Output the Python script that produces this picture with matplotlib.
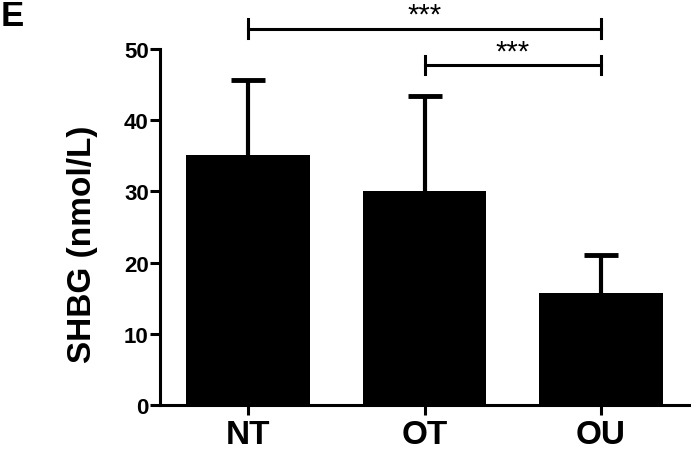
import matplotlib.pyplot as plt

groups = ['NT', 'OT', 'OU']
means = [35.1, 30.1, 15.7]
sd = [10.6, 13.3, 5.4]
# significance brackets: (from group, to group, height, label)
brackets = [(0, 2, 52.9, '***'), (1, 2, 47.8, '***')]

plt.rcParams['font.family'] = ['Liberation Sans', 'DejaVu Sans']

fig = plt.figure(figsize=(6.91, 4.52), dpi=100)
ax = fig.add_axes([0.2315, 0.1018, 0.7685, 0.7872])

x = list(range(len(groups)))
# error bars sit behind the bars, so only the upper half shows
ax.errorbar(x, means, yerr=sd, fmt='none', ecolor='black', elinewidth=3,
            capsize=12, capthick=3.5, zorder=1)
ax.bar(x, means, width=0.7, color='black', zorder=2)

ax.set_xlim(-0.5, 2.51)
ax.set_ylim(0, 50)
ax.set_yticks(range(0, 51, 10))
ax.set_xticks(x)
ax.set_xticklabels(groups, fontsize=24, fontweight='bold')
for lab in ax.get_yticklabels():
    lab.set_fontsize(16)
    lab.set_fontweight('bold')
ax.set_ylabel('SHBG (nmol/L)', fontsize=24, fontweight='bold')
ax.yaxis.set_label_coords(-0.117, 0.455)

for s in ['top', 'right']:
    ax.spines[s].set_visible(False)
for s in ['left', 'bottom']:
    ax.spines[s].set_linewidth(2.2)
ax.tick_params(axis='both', width=2.2, length=7, pad=1)
ax.tick_params(axis='x', pad=3)

for a, b, h, lab in brackets:
    ax.plot([a, b], [h, h], color='black', lw=2.2, clip_on=False)
    for xx in (a, b):
        ax.plot([xx, xx], [h - 1.3, h + 1.3], color='black', lw=2.2,
                clip_on=False)
    ax.text((a + b) / 2, h + 0.8, lab, ha='center', va='baseline',
            fontsize=21, clip_on=False)

fig.text(0.001, 0.9425, 'E', fontsize=25, fontweight='bold',
         va='baseline', ha='left')

fig.savefig('out.png', dpi=100)
